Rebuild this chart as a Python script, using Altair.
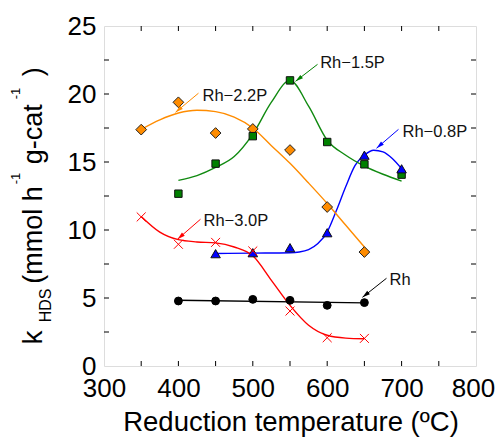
import altair as alt
import pandas as pd
import math

# ---------------- data ----------------
rh_x = [400, 450, 500, 550, 600, 650]
rh_y = [4.78, 4.78, 4.9, 4.83, 4.46, 4.66]
rh_fit_x = [400, 650]
rh_fit_y = [4.83, 4.64]

p08_x = [450, 500, 550, 600, 650, 700]
p08_y = [8.26, 8.33, 8.7, 9.8, 15.5, 14.5]
p08_fit_x = [450, 500, 550, 562.5, 575, 587.5, 600, 612.5, 625, 637.5, 650, 662.5, 675, 687.5, 700]
p08_fit_y = [8.27, 8.3, 8.33, 8.38, 8.55, 9.0, 9.85, 11.45, 13.2, 14.75, 15.5, 15.86, 15.74, 15.25, 14.5]

p15_x = [400, 450, 500, 550, 600, 650, 700]
p15_y = [12.67, 14.88, 16.9, 21.0, 16.47, 14.83, 14.07]
p15_fit_x = [400, 425, 450, 475, 500, 525, 550, 575, 600, 625, 650, 675, 700]
p15_fit_y = [13.65, 14.0, 14.6, 15.4, 17.05, 19.4, 21.0, 19.1, 16.6, 15.5, 14.7, 14.1, 13.6]

p22_x = [350, 400, 450, 500, 550, 600, 650]
p22_y = [17.38, 19.39, 17.13, 17.43, 15.88, 11.69, 8.38]
p22_fit_x = [350, 375, 400, 425, 450, 475, 500, 525, 550, 575, 600, 625, 650]
p22_fit_y = [17.4, 18.1, 18.6, 18.8, 18.7, 18.3, 17.5, 16.2, 14.9, 13.45, 11.95, 10.35, 8.75]

p30_x = [350, 400, 450, 500, 550, 600, 650]
p30_y = [10.96, 8.95, 9.09, 8.46, 4.04, 2.08, 2.03]
p30_fit_x = [350, 375, 400, 425, 450, 475, 500, 525, 550, 575, 600, 625, 650]
p30_fit_y = [11.0, 9.85, 9.29, 9.12, 9.05, 8.75, 8.1, 6.3, 4.46, 3.0, 2.26, 2.05, 2.0]

# annotations: label, text x, text y, arrow start (x, y), arrow tip (x, y), colour
ann_label = ["Rh\u22121.5P", "Rh\u22122.2P", "Rh\u22120.8P", "Rh\u22123.0P", "Rh"]
ann_tx = [590.6, 432.4, 701.2, 433.7, 683.7]
ann_ty = [22.26, 19.85, 17.2, 10.66, 6.3]
ann_x0 = [587.0, 427.0, 695.8, 429.7, 679.7]
ann_y0 = [22.18, 20.06, 17.40, 10.79, 6.45]
ann_x1 = [557.4, 396.1, 666.3, 398.8, 647.4]
ann_y1 = [20.93, 18.65, 16.01, 9.32, 5.05]
ann_col = ["#008000", "#ff8c00", "#0000ff", "#ff0000", "#000000"]

x_ticks = [300, 400, 500, 600, 700, 800]
y_ticks = [0, 5, 10, 15, 20, 25]
x_minor = [350, 400, 450, 500, 550, 600, 650, 700, 750]
y_minor = [2.5, 5, 7.5, 10, 12.5, 15, 17.5, 20, 22.5]

W, H = 372, 340
FONT = "Liberation Sans"

xs = alt.Scale(domain=[300, 800], nice=False, zero=False)
ys = alt.Scale(domain=[0, 25], nice=False, zero=False)
xax = alt.Axis(values=x_ticks, title=None, grid=False, ticks=False, tickSize=0, domain=False,
               labelFontSize=26, labelFont=FONT, labelColor="black", labelPadding=9, labelFlush=False,
               labelOffset={"condition": {"test": "datum.value == 800", "value": -3}, "value": 0})
yax = alt.Axis(values=y_ticks, title=None, grid=False, ticks=False, tickSize=0, domain=False,
               labelFontSize=26, labelFont=FONT, labelColor="black", labelPadding=8)


def X(f):
    return alt.X(f, type="quantitative", scale=xs, axis=xax)


def Y(f):
    return alt.Y(f, type="quantitative", scale=ys, axis=yax)


layers = []

# tick marks (inside, all four sides)
dfx = pd.DataFrame({"v": x_minor})
dfy = pd.DataFrame({"v": y_minor})
layers.append(alt.Chart(dfx).mark_rule(color="black", strokeWidth=1).encode(x=X("v"), y=alt.value(H), y2=alt.value(H - 5)))
layers.append(alt.Chart(dfx).mark_rule(color="black", strokeWidth=1).encode(x=X("v"), y=alt.value(0), y2=alt.value(5)))
layers.append(alt.Chart(dfy).mark_rule(color="black", strokeWidth=1).encode(y=Y("v"), x=alt.value(0), x2=alt.value(5)))
layers.append(alt.Chart(dfy).mark_rule(color="black", strokeWidth=1).encode(y=Y("v"), x=alt.value(W), x2=alt.value(W - 5)))

# fitted curves
curves = [
    (rh_fit_x, rh_fit_y, "#000000", "linear"),
    (p08_fit_x, p08_fit_y, "#0000ff", "monotone"),
    (p15_fit_x, p15_fit_y, "#108a10", "monotone"),
    (p22_fit_x, p22_fit_y, "#ff8c00", "monotone"),
    (p30_fit_x, p30_fit_y, "#ff0000", "monotone"),
]
for cx, cy, col, interp in curves:
    d = pd.DataFrame({"x": cx, "y": cy})
    layers.append(alt.Chart(d).mark_line(color=col, strokeWidth=1.4, interpolate=interp).encode(x=X("x"), y=Y("y")))

# markers
XSHAPE = "M-1,-1L1,1M1,-1L-1,1"
markers = [
    (p22_x, p22_y, dict(shape="diamond", size=115, filled=True, fill="#ff8c00", stroke="#222", strokeWidth=1, opacity=1)),
    (p15_x, p15_y, dict(shape="square", size=55, filled=True, fill="#008000", stroke="#111", strokeWidth=1, opacity=1)),
    (p08_x, p08_y, dict(shape="triangle-up", size=90, filled=True, fill="#0000ff", stroke="#111", strokeWidth=1, opacity=1)),
    (p30_x, p30_y, dict(shape=XSHAPE, size=80, filled=False, stroke="#ff0000", strokeWidth=1, opacity=1)),
    (rh_x, rh_y, dict(shape="circle", size=62, filled=True, fill="#000000", stroke="#000000", strokeWidth=1, opacity=1)),
]
for mx, my, style in markers:
    d = pd.DataFrame({"x": mx, "y": my})
    layers.append(alt.Chart(d).mark_point(**style).encode(x=X("x"), y=Y("y")))

# annotation arrows and labels
adf = pd.DataFrame({"label": ann_label, "tx": ann_tx, "ty": ann_ty, "x0": ann_x0, "y0": ann_y0,
                    "x1": ann_x1, "y1": ann_y1, "col": ann_col})
sx = W / 500.0
sy = H / 25.0
angles = []
for i in range(len(ann_label)):
    dx = (ann_x1[i] - ann_x0[i]) * sx
    dy = -(ann_y1[i] - ann_y0[i]) * sy
    angles.append((math.degrees(math.atan2(dx, -dy)) + 360) % 360)
adf["ang"] = angles

colscale = alt.Scale(domain=ann_col, range=ann_col)
layers.append(alt.Chart(adf).mark_rule(strokeWidth=1).encode(
    x=X("x0"), y=Y("y0"), x2="x1", y2="y1", color=alt.Color("col:N", scale=colscale, legend=None)))
layers.append(alt.Chart(adf).mark_point(shape="M0,0L-0.55,2L0.55,2Z", size=60, filled=True, opacity=1).encode(
    x=X("x1"), y=Y("y1"), angle=alt.Angle("ang:Q", scale=None),
    color=alt.Color("col:N", scale=colscale, legend=None)))
layers.append(alt.Chart(adf).mark_text(align="left", baseline="middle", fontSize=16.5, font=FONT, color="#111").encode(
    x=X("tx"), y=Y("ty"), text="label:N"))

# axis titles as text
layers.append(alt.Chart(pd.DataFrame({"t": ["Reduction temperature (\u00baC)"]})).mark_text(
    align="center", baseline="alphabetic", fontSize=27.5, font=FONT, color="black").encode(
    x=alt.value(W / 2 + 1), y=alt.value(404.5), text="t:N"))

ytitle = [
    ("k", 28, -61.8, 318.5),
    ("HDS", 16, -52.8, 296.3),
    ("(mmol h", 27, -61.8, 257.8),
    ("-1", 13, -84.5, 158.3),
    ("g-cat", 27, -61.8, 138.3),
    ("-1", 13, -84.5, 73.3),
    (")", 27, -61.8, 50.3),
]
for txt, fs, px, py in ytitle:
    layers.append(alt.Chart(pd.DataFrame({"t": [txt]})).mark_text(
        align="left", baseline="alphabetic", angle=270, fontSize=fs, font=FONT, color="black").encode(
        x=alt.value(px), y=alt.value(py), text="t:N"))

chart = alt.layer(*layers).properties(
    width=W, height=H,
    autosize=alt.AutoSizeParams(type="none"),
    padding={"left": 96, "top": 18, "right": 20, "bottom": 71},
).configure_view(stroke="black", strokeWidth=1.5).configure(background="white")

chart.save("out.html", embed_options={"renderer": "svg", "actions": False})
